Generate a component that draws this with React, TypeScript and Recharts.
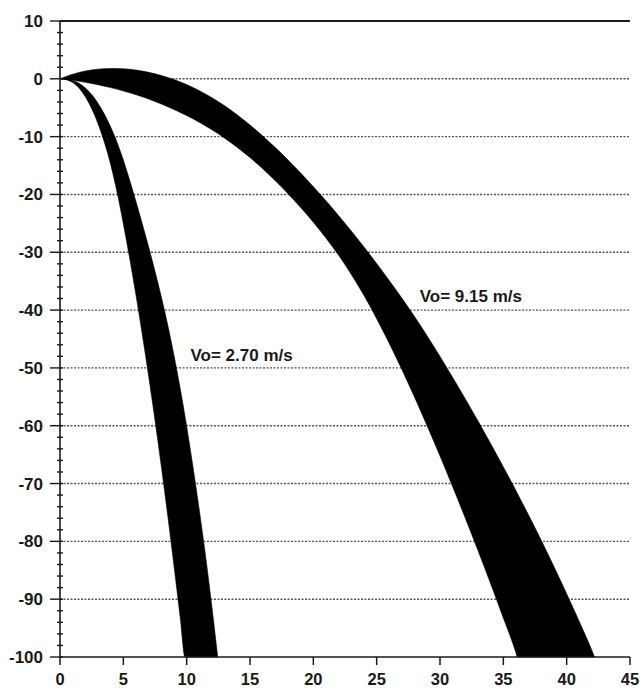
import {
  ComposedChart,
  Area,
  XAxis,
  YAxis,
  CartesianGrid,
  ReferenceLine,
  ReferenceDot,
} from "recharts";

const FONT = "'Liberation Sans', Arial, sans-serif";
const INK = "#1a1a1a";

const xTicks = [0, 5, 10, 15, 20, 25, 30, 35, 40, 45];
const yTicks = [10, 0, -10, -20, -30, -40, -50, -60, -70, -80, -90, -100];
const gridLevels = [0, -10, -20, -30, -40, -50, -60, -70, -80, -90];
// small ticks every 2 m on both vertical axes
const yMinorTicks = Array.from({ length: 56 }, (_, i) => 10 - 2 * i);

// Vo = 9.15 m/s envelope
const wideX = [
  0, 1, 2, 3, 4, 5, 6, 7, 8, 9, 10, 11, 12, 13, 14, 15, 16, 17, 18, 19, 20, 21,
  22, 23, 24, 25, 26, 27, 28, 29, 30, 31, 32, 33, 34, 35, 36, 36.1, 37, 38, 39,
  40, 41, 42, 42.2,
];
const wideUpper = [
  0, 0.8, 1.35, 1.67, 1.79, 1.74, 1.52, 1.12, 0.57, -0.13, -1.0, -2.05, -3.27,
  -4.67, -6.24, -7.98, -9.88, -11.9, -14.04, -16.29, -18.65, -21.11, -23.67,
  -26.33, -29.09, -31.95, -34.91, -37.97, -41.17, -44.52, -48.02, -51.64,
  -55.36, -59.18, -63.1, -67.12, -71.24, -71.66, -75.48, -79.86, -84.38,
  -89.06, -93.9, -98.9, -100,
];
const wideLower = [
  0, -0.25, -0.6, -1.02, -1.52, -2.09, -2.74, -3.49, -4.35, -5.3, -6.35, -7.52,
  -8.82, -10.27, -11.87, -13.63, -15.55, -17.63, -19.87, -22.25, -24.8, -27.55,
  -30.53, -33.83, -37.48, -41.48, -45.78, -50.33, -55.11, -60.09, -65.24,
  -70.54, -75.99, -81.59, -87.34, -93.24, -99.29, -100, -100, -100, -100, -100,
  -100, -100, -100,
];

// Vo = 2.70 m/s envelope
const narrowX = [
  0, 0.5, 1, 1.5, 2, 2.5, 3, 3.5, 4, 4.5, 5, 5.5, 6, 6.5, 7, 7.5, 8, 8.5, 9,
  9.5, 9.87, 10, 10.5, 11, 11.5, 12, 12.45,
];
const narrowUpper = [
  0, -0.05, -0.28, -0.78, -1.58, -2.73, -4.23, -6.1, -8.35, -10.95, -14.05,
  -17.55, -21.25, -25.1, -29.1, -33.3, -37.75, -42.55, -47.85, -53.7, -58.4,
  -60.15, -67.15, -74.65, -82.7, -91.5, -100,
];
const narrowLower = [
  0, -0.15, -0.65, -1.6, -3.1, -5.15, -7.75, -10.95, -14.8, -19.55, -25.05,
  -31.05, -37.45, -44.25, -51.45, -59.05, -67.05, -75.45, -84.25, -93.35, -100,
  -100, -100, -100, -100, -100, -100,
];

const wideBand = wideX.map((x, i) => ({ x, range: [wideLower[i], wideUpper[i]] }));
const narrowBand = narrowX.map((x, i) => ({ x, range: [narrowLower[i], narrowUpper[i]] }));

const labelStyle = { fontFamily: FONT, fontSize: 17, fontWeight: 700, fill: INK };

const LeftTick = ({ x, y, payload }: any) => {
  const major = payload.value % 10 === 0;
  return (
    <g>
      <line x1={major ? x - 10 : x - 3} x2={x + 3} y1={y} y2={y} stroke={INK} strokeWidth={1.4} />
      {major && (
        <text x={x - 17} y={y} dy={6} textAnchor="end" style={labelStyle}>
          {payload.value}
        </text>
      )}
    </g>
  );
};

const RightTick = ({ x, y, payload }: any) => {
  const major = payload.value % 10 === 0;
  return <line x1={x - (major ? 8 : 4)} x2={x} y1={y} y2={y} stroke={INK} strokeWidth={1.2} />;
};

const BottomTick = ({ x, y, payload }: any) => (
  <g>
    <line x1={x} x2={x} y1={y} y2={y + 8} stroke={INK} strokeWidth={1.5} />
    <text x={x} y={y + 28} textAnchor="middle" style={{ ...labelStyle, fontSize: 16.5 }}>
      {payload.value}
    </text>
  </g>
);

const note = (text: string) => (p: any) => (
  <text x={p.cx} y={p.cy} style={labelStyle}>
    {text}
  </text>
);

export default function App() {
  return (
    <div style={{ position: "absolute", left: 0, top: 0, width: 641, height: 691 }}>
      <ComposedChart width={641} height={691} margin={{ top: 21, right: 11, bottom: 0, left: 0 }}>
        <CartesianGrid
          vertical={false}
          horizontalValues={gridLevels}
          stroke="#555"
          strokeWidth={1.4}
          strokeDasharray="2 1.5"
        />
        <XAxis
          dataKey="x"
          type="number"
          domain={[0, 45]}
          ticks={xTicks}
          interval={0}
          height={34}
          tickLine={false}
          tickSize={0}
          tickMargin={0}
          axisLine={{ stroke: INK, strokeWidth: 1.6 }}
          tick={<BottomTick />}
        />
        <YAxis
          type="number"
          domain={[-100, 10]}
          ticks={yMinorTicks}
          interval={0}
          width={60}
          tickLine={false}
          tickSize={0}
          tickMargin={0}
          axisLine={{ stroke: INK, strokeWidth: 1.6 }}
          tick={<LeftTick />}
        />
        <YAxis
          yAxisId="r"
          orientation="right"
          type="number"
          domain={[-100, 10]}
          ticks={yMinorTicks}
          interval={0}
          width={0}
          tickLine={false}
          tickSize={0}
          tickMargin={0}
          axisLine={{ stroke: INK, strokeWidth: 1.6 }}
          tick={<RightTick />}
        />
        <ReferenceLine y={yTicks[0]} stroke={INK} strokeWidth={1.8} />
        <Area
          data={wideBand}
          dataKey="range"
          type="monotone"
          fill="#000"
          fillOpacity={1}
          stroke="#000"
          strokeWidth={0.6}
          isAnimationActive={false}
        />
        <Area
          data={narrowBand}
          dataKey="range"
          type="monotone"
          fill="#000"
          fillOpacity={1}
          stroke="#000"
          strokeWidth={0.6}
          isAnimationActive={false}
        />
        <ReferenceDot x={28.4} y={-38.6} r={0} shape={note("Vo= 9.15 m/s")} />
        <ReferenceDot x={10.3} y={-48.8} r={0} shape={note("Vo= 2.70 m/s")} />
      </ComposedChart>
    </div>
  );
}
